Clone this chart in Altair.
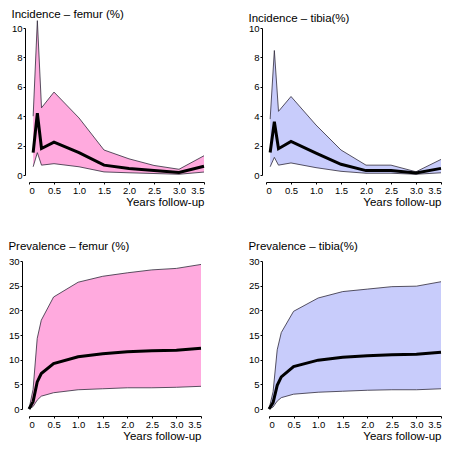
import altair as alt
import pandas as pd

# ---- data ----
inc_x = [0.083, 0.167, 0.25, 0.5, 1.0, 1.5, 2.0, 2.5, 3.0, 3.5]
inc_femur_mean = [1.52, 4.2, 1.8, 2.23, 1.52, 0.67, 0.45, 0.3, 0.17, 0.6]
inc_femur_hi = [4.0, 10.5, 4.57, 5.64, 3.88, 1.7, 1.1, 0.65, 0.39, 1.31]
inc_femur_lo = [0.56, 1.52, 0.67, 0.77, 0.56, 0.21, 0.15, 0.1, 0.05, 0.2]

inc_tibia_mean = [1.53, 3.62, 1.79, 2.28, 1.49, 0.73, 0.3, 0.3, 0.13, 0.45]
inc_tibia_hi = [3.8, 8.47, 4.33, 5.34, 3.4, 1.7, 0.67, 0.67, 0.22, 1.06]
inc_tibia_lo = [0.56, 1.2, 0.67, 0.82, 0.5, 0.25, 0.12, 0.12, 0.05, 0.15]

prev_x = [0.0, 0.083, 0.167, 0.25, 0.5, 1.0, 1.5, 2.0, 2.5, 3.0, 3.5]
prev_femur_mean = [0, 1.5, 5.5, 7.2, 9.2, 10.6, 11.2, 11.6, 11.8, 11.9, 12.3]
prev_femur_hi = [0, 4.0, 14.3, 18.0, 22.7, 25.7, 26.9, 27.6, 28.2, 28.5, 29.3]
prev_femur_lo = [0, 0.5, 1.8, 2.6, 3.3, 3.9, 4.1, 4.3, 4.3, 4.4, 4.6]

prev_tibia_mean = [0, 1.3, 4.8, 6.5, 8.6, 9.9, 10.5, 10.8, 11.0, 11.1, 11.5]
prev_tibia_hi = [0, 3.5, 12.0, 15.5, 19.8, 22.5, 23.8, 24.3, 24.8, 24.9, 25.8]
prev_tibia_lo = [0, 0.4, 1.6, 2.3, 3.0, 3.4, 3.6, 3.8, 3.9, 3.9, 4.1]

x_ticks = [0, 0.5, 1.0, 1.5, 2.0, 2.5, 3.0, 3.5]
inc_y_ticks = [0, 2, 4, 6, 8, 10]
prev_y_ticks = [0, 5, 10, 15, 20, 25, 30]

PINK = "#ffaade"
BLUE = "#c8ccfb"
EDGE = "#2e2a3a"
FONT = "Liberation Sans"


def panel(xs, mean, lo, hi, color, title, ymax, yticks, yoff, width, height, toff):
    df = pd.DataFrame({"x": xs, "mean": mean, "lo": lo, "hi": hi})
    base = alt.Chart(df)
    xscale = alt.Scale(domain=[0, 3.5], nice=False, zero=False)
    xaxis = alt.Axis(
        values=x_ticks,
        labelExpr="datum.value == 0 ? '0' : format(datum.value, '.1f')",
        title="Years follow-up",
        titleAnchor="end",
        titleFontSize=11.5,
        titleFontWeight="normal",
        titleFont=FONT,
        titleColor="black",
        titlePadding=2,
        offset=7,
        grid=False,
        tickSize=2,
        labelPadding=1,
        labelFontSize=9.5,
        labelFont=FONT,
        labelColor="black",
        domainColor="black",
        tickColor="black",
        labelOverlap=False,
    )
    yscale = alt.Scale(domain=[0, ymax], nice=False, zero=True)
    yaxis = alt.Axis(
        values=yticks,
        title=None,
        offset=yoff,
        grid=False,
        tickSize=2,
        labelPadding=1,
        labelFontSize=9.5,
        labelFont=FONT,
        labelColor="black",
        domainColor="black",
        tickColor="black",
        labelOverlap=False,
    )
    X = alt.X("x:Q", scale=xscale, axis=xaxis)

    def Y(field):
        return alt.Y(field, type="quantitative", scale=yscale, axis=yaxis)

    area = base.mark_area(color=color, opacity=1).encode(x=X, y=Y("hi"), y2="lo:Q")
    hi_line = base.mark_line(color=EDGE, strokeWidth=0.8).encode(x=X, y=Y("hi"))
    lo_line = base.mark_line(color=EDGE, strokeWidth=0.8).encode(x=X, y=Y("lo"))
    mean_line = base.mark_line(color="black", strokeWidth=3, strokeJoin="miter").encode(x=X, y=Y("mean"))
    return alt.layer(area, hi_line, lo_line, mean_line).properties(
        width=width,
        height=height,
        title=alt.TitleParams(
            title,
            anchor="start",
            frame="bounds",
            fontSize=11.5,
            font=FONT,
            fontWeight="normal",
            color="black",
            offset=toff,
        ),
    )


p1 = panel(inc_x, inc_femur_mean, inc_femur_lo, inc_femur_hi, PINK, "Incidence – femur (%)", 10, inc_y_ticks, 4, 175, 147, -1)
p2 = panel(inc_x, inc_tibia_mean, inc_tibia_lo, inc_tibia_hi, BLUE, "Incidence – tibia(%)", 10, inc_y_ticks, 4, 175, 147, -1)
p3 = panel(prev_x, prev_femur_mean, prev_femur_lo, prev_femur_hi, PINK, "Prevalence – femur (%)", 30, prev_y_ticks, 7, 172, 148, 4)
p4 = panel(prev_x, prev_tibia_mean, prev_tibia_lo, prev_tibia_hi, BLUE, "Prevalence – tibia(%)", 30, prev_y_ticks, 7, 172, 148, 4)

chart = (
    alt.concat(
        p1, p2, p3, p4,
        columns=2,
        spacing=alt.RowColnumber(row=31, column=38),
        align=alt.RowColLayoutAlign(row="all", column="none"),
    )
    .properties(padding=0, background="white")
    .configure_view(stroke=None)
)

chart.save("out.html", embed_options={"renderer": "svg", "actions": False})
